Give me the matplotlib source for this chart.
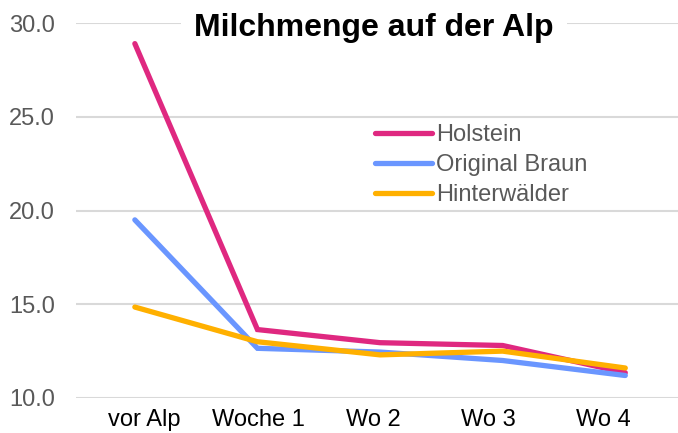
import numpy as np
import matplotlib
matplotlib.use("Agg")
import matplotlib.pyplot as plt

plt.rcParams['font.family'] = ['Liberation Sans', 'DejaVu Sans']

categories = ["vor Alp", "Woche 1", "Wo 2", "Wo 3", "Wo 4"]
holstein = [28.9, 13.65, 12.95, 12.8, 11.35]
original_braun = [19.5, 12.65, 12.45, 12.0, 11.2]
hinterwaelder = [14.85, 13.0, 12.3, 12.5, 11.6]
series_names = ["Holstein", "Original Braun", "Hinterwälder"]
colors = ["#DF2880", "#6A96FF", "#FFB000"]
y_ticks = [10, 15, 20, 25, 30]

fig = plt.figure(figsize=(6.78, 4.33), dpi=100)
ax = fig.add_axes([76 / 678, 1 - 398 / 433, 602 / 678, 375 / 433])

x = np.arange(len(categories))
for vals, name, c in zip([holstein, original_braun, hinterwaelder], series_names, colors):
    ax.plot(x, vals, color=c, lw=3.8, solid_capstyle='round',
            solid_joinstyle='miter', label=name, zorder=3)

ax.set_ylim(10, 30)
ax.set_xlim(-0.48, 4.43)
ax.set_yticks(y_ticks)
ax.set_yticklabels(["%.1f" % v for v in y_ticks])
ax.set_xticks([])
ax.grid(axis='y', color='#D9D9D9', lw=1.5, zorder=0)
ax.set_axisbelow(True)
for s in ax.spines.values():
    s.set_visible(False)
ax.tick_params(axis='both', length=0, labelsize=17)
ax.tick_params(axis='y', colors='#595959', pad=15)

# category labels sit a bit tighter than the data points in the original
lab = ax.twiny()
lab.set_xlim(-0.593, 4.654)
lab.xaxis.set_ticks_position('bottom')
lab.set_xticks(x)
lab.set_xticklabels(categories)
lab.tick_params(axis='x', length=0, labelsize=17, colors='black', pad=8)
for s in lab.spines.values():
    s.set_visible(False)

leg = ax.legend(loc='center left', bbox_to_anchor=(375 / 678, 1 - 165 / 433),
                bbox_transform=fig.transFigure, frameon=False, fontsize=17,
                handlelength=2.4, handletextpad=0.2, labelspacing=0.33,
                borderpad=0, borderaxespad=0)
for t in leg.get_texts():
    t.set_color('#595959')

fig.text(374 / 678, 1 - 28 / 433, "Milchmenge auf der Alp", fontsize=23,
         fontweight='bold', ha='center', va='center', color='black',
         bbox=dict(boxstyle='square,pad=0.4', fc='white', ec='none'), zorder=5)

fig.savefig("out.png", dpi=100)
